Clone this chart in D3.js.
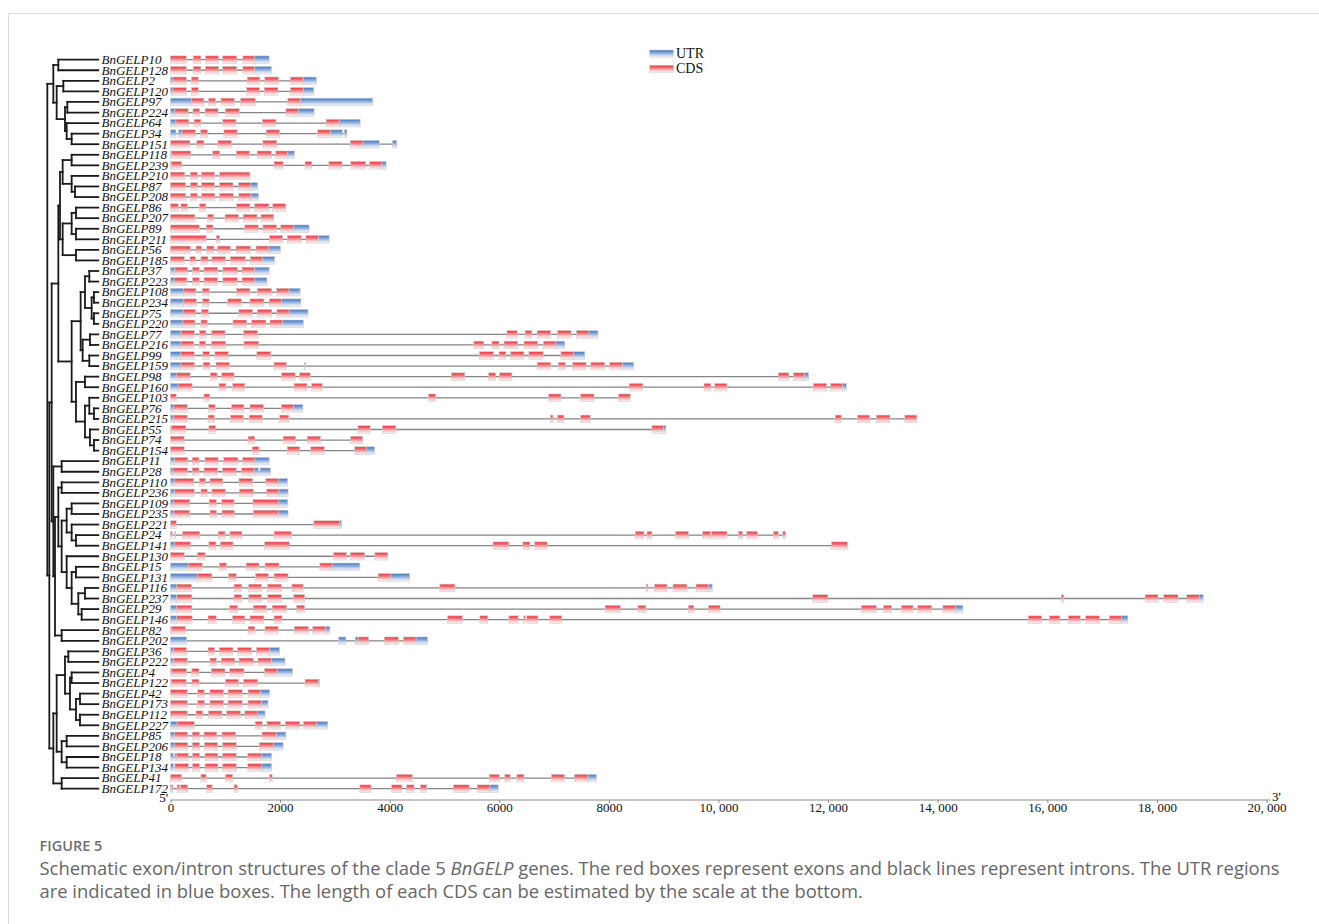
<!DOCTYPE html>
<html><head><meta charset="utf-8">
<script src="https://cdn.jsdelivr.net/npm/d3@7"></script>
<style>body{margin:0;background:#fff;} svg{display:block;}</style>
</head><body><svg id="chart" width="1319" height="924"></svg>
<script>
// ---------------- DATA ----------------
const genes = ["BnGELP10","BnGELP128","BnGELP2","BnGELP120","BnGELP97","BnGELP224","BnGELP64","BnGELP34","BnGELP151","BnGELP118","BnGELP239","BnGELP210","BnGELP87","BnGELP208","BnGELP86","BnGELP207","BnGELP89","BnGELP211","BnGELP56","BnGELP185","BnGELP37","BnGELP223","BnGELP108","BnGELP234","BnGELP75","BnGELP220","BnGELP77","BnGELP216","BnGELP99","BnGELP159","BnGELP98","BnGELP160","BnGELP103","BnGELP76","BnGELP215","BnGELP55","BnGELP74","BnGELP154","BnGELP11","BnGELP28","BnGELP110","BnGELP236","BnGELP109","BnGELP235","BnGELP221","BnGELP24","BnGELP141","BnGELP130","BnGELP15","BnGELP131","BnGELP116","BnGELP237","BnGELP29","BnGELP146","BnGELP82","BnGELP202","BnGELP36","BnGELP222","BnGELP4","BnGELP122","BnGELP42","BnGELP173","BnGELP112","BnGELP227","BnGELP85","BnGELP206","BnGELP18","BnGELP134","BnGELP41","BnGELP172"];

const geneLength = [1800,1840,2660,2615,3690,2620,3460,3220,4130,2260,3935,1450,1590,1605,2100,1880,2530,2895,2005,1900,1800,1760,2365,2380,2510,2425,7800,7195,7560,8450,11645,12335,8390,2415,13620,9040,3505,3725,1800,1825,2135,2145,2140,2145,3120,11225,12350,3965,3455,4365,9885,18845,14460,17470,2910,4690,1990,2090,2225,2720,1810,1780,1725,2870,2105,2055,1845,1845,7770,5980];

const utrSegments = [
 [[1530,1800]],
 [[1530,1840]],
 [[0,45],[2420,2660]],
 [[0,45],[2420,2615]],
 [[0,380],[2370,3690]],
 [[0,80],[2335,2620]],
 [[0,100],[3080,3460]],
 [[0,100],[145,210],[2920,3135],[3170,3220]],
 [[3510,3810],[4050,4130]],
 [[0,20],[2140,2260]],
 [[0,20],[3855,3935]],
 [],
 [[1465,1590]],
 [[1470,1605]],
 [],
 [],
 [[2240,2530]],
 [[2700,2895]],
 [[1795,2005]],
 [[1675,1900]],
 [[0,80],[1530,1800]],
 [[0,75],[1530,1760]],
 [[0,245],[2160,2365]],
 [[0,245],[2025,2380]],
 [[0,230],[2165,2510]],
 [[0,225],[2045,2425]],
 [[0,190],[7635,7800]],
 [[0,190],[7030,7195]],
 [[0,190],[7350,7560]],
 [[0,190],[8245,8450]],
 [[0,105],[11565,11645]],
 [[0,140],[12260,12335]],
 [],
 [[0,60],[2240,2415]],
 [[0,55]],
 [[0,20],[8995,9040]],
 [],
 [[3575,3725]],
 [[0,75],[1535,1800]],
 [[0,45],[1525,1605],[1635,1825]],
 [[0,75],[1965,2135]],
 [[0,75],[1975,2145]],
 [[0,60],[1975,2140]],
 [[0,60],[1975,2145]],
 [[3080,3120]],
 [],
 [[0,75]],
 [],
 [[0,325],[2955,3455]],
 [[0,490],[4020,4365]],
 [[0,115],[9815,9885]],
 [[0,115],[18780,18845]],
 [[0,115],[14325,14460]],
 [[0,115],[17350,17470]],
 [[0,20],[2825,2910]],
 [[0,295],[3065,3200],[3370,3425],[4480,4690]],
 [[0,55],[1805,1990]],
 [[0,55],[1840,2090]],
 [[0,20],[1945,2225]],
 [[0,20],[2695,2720]],
 [[1640,1810]],
 [[1660,1780]],
 [[1585,1725]],
 [[0,120],[2660,2870]],
 [[0,75],[1935,2105]],
 [[0,75],[1880,2055]],
 [[0,55],[80,105],[1665,1845]],
 [[0,55],[1665,1845]],
 [[7620,7770]],
 [[0,20],[5830,5980]]
];

const cdsSegments = [
 [[0,290],[415,555],[635,880],[950,1210],[1320,1530]],
 [[0,290],[415,555],[635,880],[950,1210],[1320,1530]],
 [[45,290],[380,510],[1400,1630],[1720,1975],[2185,2420]],
 [[45,290],[380,510],[1390,1620],[1710,1960],[2185,2420]],
 [[380,610],[695,825],[920,1165],[1280,1550],[2140,2370]],
 [[80,325],[410,530],[630,870],[1000,1255],[2105,2335]],
 [[100,335],[430,555],[955,1195],[1675,1925],[2840,3080]],
 [[210,455],[550,675],[975,1215],[1745,1990],[2685,2920]],
 [[0,355],[480,610],[865,1110],[1685,1940],[3280,3510]],
 [[20,370],[770,900],[1200,1440],[1580,1840],[1920,2140]],
 [[20,200],[1890,2055],[2455,2580],[2890,3130],[3290,3555],[3635,3855]],
 [[0,260],[360,490],[565,805],[895,1450]],
 [[0,275],[360,490],[565,805],[895,1140],[1240,1465]],
 [[0,275],[360,490],[565,810],[895,1145],[1245,1470]],
 [[0,145],[190,305],[525,645],[1205,1450],[1535,1795],[1865,2100]],
 [[0,445],[675,785],[995,1245],[1325,1580],[1650,1880]],
 [[0,525],[650,775],[1355,1605],[1685,1940],[2010,2240]],
 [[0,650],[835,895],[1805,2045],[2130,2385],[2470,2700]],
 [[0,365],[465,565],[660,795],[855,1095],[1195,1465],[1560,1795]],
 [[0,255],[355,455],[555,685],[755,1000],[1090,1365],[1455,1675]],
 [[80,310],[400,525],[610,860],[955,1220],[1305,1530]],
 [[75,300],[400,525],[610,860],[955,1220],[1305,1530]],
 [[245,465],[580,705],[1205,1450],[1585,1840],[1935,2160]],
 [[245,475],[580,705],[1045,1295],[1450,1705],[1800,2025]],
 [[230,455],[565,690],[1245,1500],[1585,1845],[1940,2165]],
 [[225,445],[555,670],[1140,1390],[1480,1740],[1815,2045]],
 [[190,435],[525,645],[750,995],[1335,1590],[6140,6325],[6470,6595],[6690,6940],[7060,7310],[7405,7635]],
 [[190,425],[525,640],[750,1000],[1340,1610],[5535,5715],[5865,5995],[6085,6335],[6450,6700],[6805,7030]],
 [[190,435],[590,715],[810,1055],[1575,1830],[5635,5895],[5995,6120],[6205,6450],[6540,6800],[7125,7350]],
 [[190,440],[595,720],[830,1075],[1890,2115],[2445,2465],[6690,6940],[7080,7205],[7335,7585],[7670,7925],[8015,8245]],
 [[105,360],[725,850],[935,1160],[2025,2275],[2355,2550],[5125,5370],[5805,5930],[6005,6230],[11090,11285],[11365,11565]],
 [[140,395],[885,1010],[1135,1355],[2255,2490],[2575,2770],[8370,8620],[9735,9860],[9930,10155],[11730,11975],[12045,12260]],
 [[0,105],[610,715],[4705,4840],[6900,7125],[7480,7730],[8175,8390]],
 [[60,305],[695,815],[1115,1340],[1450,1695],[2025,2240]],
 [[55,305],[685,800],[1095,1325],[1435,1675],[1990,2160],[6930,6980],[7060,7180],[7485,7660],[12130,12240],[12535,12760],[12880,13130],[13400,13620]],
 [[20,280],[700,825],[3420,3645],[3865,4110],[8785,8995]],
 [[0,250],[1415,1540],[2055,2285],[2495,2740],[3285,3505]],
 [[0,250],[1490,1615],[2130,2360],[2560,2810],[3360,3575]],
 [[75,315],[395,520],[630,870],[970,1230],[1315,1535]],
 [[45,310],[395,520],[610,860],[945,1200],[1300,1525]],
 [[75,425],[525,640],[720,955],[1250,1500],[1740,1965]],
 [[75,435],[555,670],[755,1000],[1255,1510],[1750,1975]],
 [[60,350],[705,835],[935,1160],[1505,1975]],
 [[60,350],[720,840],[940,1165],[1510,1975]],
 [[0,105],[2615,3080]],
 [[0,30],[75,90],[220,535],[870,995],[1085,1305],[1890,2205],[8480,8640],[8695,8785],[9215,9450],[9710,9855],[9870,10155],[10360,10440],[10515,10710],[11000,11090],[11170,11225]],
 [[75,365],[700,830],[910,1140],[1715,2170],[5885,6175],[6430,6560],[6645,6875],[12060,12350]],
 [[0,250],[495,630],[2975,3215],[3280,3540],[3730,3965]],
 [[325,580],[890,1025],[1380,1615],[1725,1980],[2725,2955]],
 [[490,755],[1060,1200],[1550,1785],[1890,2145],[3790,4020]],
 [[115,385],[1160,1300],[1425,1660],[1770,2025],[2215,2420],[4915,5190],[8680,8710],[8830,9060],[9170,9425],[9590,9815]],
 [[115,390],[1160,1300],[1425,1660],[1770,2025],[2245,2450],[11720,11995],[16255,16300],[17785,18020],[18125,18385],[18545,18780]],
 [[115,390],[1080,1220],[1510,1750],[1855,2115],[2300,2450],[7930,8210],[8530,8675],[9450,9550],[9815,10030],[12610,12880],[13010,13155],[13340,13550],[13635,13890],[14095,14325]],
 [[115,395],[685,835],[1130,1355],[1450,1705],[1890,2035],[5055,5330],[5645,5790],[6175,6345],[6445,6470],[6500,6705],[6920,7140],[15650,15900],[16040,16230],[16380,16600],[16700,16950],[17130,17350]],
 [[20,270],[1415,1540],[1725,1965],[2260,2520],[2595,2825]],
 [[3425,3615],[3900,4160],[4250,4480]],
 [[55,295],[685,805],[890,1140],[1220,1475],[1565,1805]],
 [[55,305],[720,840],[925,1175],[1250,1510],[1595,1840]],
 [[20,295],[390,520],[745,995],[1080,1340],[1715,1945]],
 [[20,285],[390,520],[1000,1245],[1330,1585],[2455,2695]],
 [[0,305],[495,620],[720,970],[1050,1310],[1415,1640]],
 [[0,305],[495,620],[720,970],[1050,1310],[1415,1660]],
 [[0,305],[465,590],[690,940],[1020,1280],[1355,1585]],
 [[120,435],[1545,1675],[1760,2005],[2095,2360],[2425,2660]],
 [[75,310],[395,530],[610,845],[940,1190],[1670,1935]],
 [[75,315],[400,530],[620,860],[950,1200],[1620,1880]],
 [[105,325],[400,530],[630,865],[950,1200],[1410,1665]],
 [[80,325],[400,530],[630,865],[950,1200],[1410,1665]],
 [[0,200],[555,650],[1005,1135],[1805,1855],[4120,4415],[5820,6000],[6100,6200],[6320,6450],[6950,7190],[7370,7620]],
 [[20,45],[120,170],[185,310],[660,760],[1160,1220],[3455,3660],[4035,4225],[4305,4445],[4560,4675],[5160,5450],[5600,5830]]
];

// tree: [nodeDepth, child, child] ; leaves = gene number suffix
const treeData =
 [22,
  [40, [55,"10","128"], [50, [70,"2","120"], [75, [82,"97","224"], [80,"64",[95,"34","151"]]]]],
  [28,
   [35,
    [55,
     [60,
      [68, [95,"118","239"], [95,"210",[105,"87","208"]]],
      [68, [95,[108,"86","207"],[108,"89","211"]], [108,"56","185"]]
     ],
     [95,
      [122,
       [135,[148,"37","223"],[155,[162,"108","234"],[162,"75","220"]]],
       [128,[150,"77","216"],[148,"99","159"]]
      ],
      [108,[135,"98","160"],[135,[148,"103",[162,"76","215"]],[150,"55",[162,"74","154"]]]]
     ]
    ],
    [40,
     [65,"11","28"],
     [45,
      [55,
       [65,"110","236"],
       [65,
        [80,[95,"109","235"],[95,"221",[108,"24","141"]]],
        [80,"130",[95,[108,"15","131"],[115,[135,"116","237"],[125,"29","146"]]]]
       ]
      ],
      [65,"82","202"]
     ]
    ]
   ],
   [40,
    [50,
     [75,[85,"36","222"],[90,[95,"4","122"],[108,[120,"42","173"],[120,"112","227"]]]],
     [65,[80,"85","206"],[80,"18","134"]]
    ],
    [65,"41","172"]
   ]
  ]
 ];

const axisTicks = [0,2000,4000,6000,8000,10000,12000,14000,16000,18000,20000];
const legendItems = ["UTR","CDS"];

// ---------------- DRAW ----------------
const svg = d3.select("#chart");
const serif = "'Liberation Serif','Times New Roman',serif";

// frame
svg.append("line").attr("x1",8).attr("x2",1319).attr("y1",13.5).attr("y2",13.5).attr("stroke","#dcdcdc");
svg.append("line").attr("x1",8.5).attr("x2",8.5).attr("y1",13).attr("y2",924).attr("stroke","#dcdcdc");

const defs = svg.append("defs");
function grad(id, stops){
  const g = defs.append("linearGradient").attr("id",id).attr("x1",0).attr("y1",0).attr("x2",0).attr("y2",1);
  stops.forEach(s=>g.append("stop").attr("offset",s[0]).attr("stop-color",s[1]));
}
grad("gCDS", [["0%","#e8333d"],["35%","#f17479"],["70%","#f9c8ca"],["100%","#fff6f6"]]);
grad("gUTR", [["0%","#4776be"],["35%","#7fa2d8"],["70%","#c9d8ef"],["100%","#f4f7fc"]]);

const x = d3.scaleLinear().domain([0,20000]).range([170.5,1266.5]);
const y = d3.scaleLinear().domain([0, genes.length-1]).range([59.7, 59.7 + 10.565*(genes.length-1)]);
const boxH = 7.6;

// genes
const rows = svg.append("g").selectAll("g").data(genes).join("g")
  .attr("transform",(d,i)=>`translate(0,${y(i)})`);
rows.append("line")
  .attr("x1",x(0)).attr("x2",(d,i)=>x(geneLength[i]))
  .attr("stroke","#858585").attr("stroke-width",1.3);
rows.each(function(d,i){
  const g = d3.select(this);
  g.selectAll("rect.u").data(utrSegments[i]).join("rect").attr("class","u")
    .attr("x",s=>x(s[0])).attr("width",s=>Math.max(0.8,x(s[1])-x(s[0])))
    .attr("y",-boxH/2).attr("height",boxH)
    .attr("fill","url(#gUTR)").attr("stroke","#cfcfcf").attr("stroke-width",0.6);
  g.selectAll("rect.c").data(cdsSegments[i]).join("rect").attr("class","c")
    .attr("x",s=>x(s[0])).attr("width",s=>Math.max(0.8,x(s[1])-x(s[0])))
    .attr("y",-boxH/2).attr("height",boxH)
    .attr("fill","url(#gCDS)").attr("stroke","#cfcfcf").attr("stroke-width",0.6);
});

// labels
rows.append("text").attr("x",101.5).attr("y",4.3)
  .attr("font-family",serif).attr("font-style","italic").attr("font-size",13)
  .attr("fill","#111").text(d=>d);

// tree
function toObj(n){
  if (typeof n === "string") return {name:"BnGELP"+n};
  return {d:n[0], children:n.slice(1).map(toObj)};
}
const root = d3.hierarchy(toObj(treeData));
const tx = d3.scaleLinear().domain([0,175]).range([40,98.3]);
const idx = new Map(genes.map((g,i)=>[g,i]));
root.eachAfter(n=>{
  if (!n.children){ n.py = y(idx.get(n.data.name)); n.px = tx(175); }
  else { n.py = (n.children[0].py + n.children[n.children.length-1].py)/2; n.px = tx(n.data.d); }
});
const tg = svg.append("g").attr("stroke","#1a1a1a").attr("stroke-width",1.8).attr("fill","none").attr("stroke-linecap","square");
root.each(n=>{
  if (!n.children) return;
  const c0 = n.children[0], c1 = n.children[n.children.length-1];
  tg.append("line").attr("x1",n.px).attr("x2",n.px).attr("y1",c0.py).attr("y2",c1.py);
  n.children.forEach(c=>{
    tg.append("line").attr("x1",n.px).attr("x2",c.px).attr("y1",c.py).attr("y2",c.py);
  });
});

// axis
const axisY = 800;
const ax = d3.axisBottom(x).tickValues(axisTicks).tickSize(3).tickPadding(0)
  .tickFormat(v => v < 10000 ? String(v) : d3.format(",")(v).replace(",", ", "));
const axg = svg.append("g").attr("transform",`translate(0,${axisY})`).call(ax);
axg.select(".domain").attr("stroke","#8a8a8a").attr("d",`M${x(0)},0H${x(20000)+4}`);
axg.selectAll(".tick line").attr("stroke","#8a8a8a");
axg.selectAll(".tick text").attr("font-family",serif).attr("font-size",13).attr("fill","#111");
svg.append("text").attr("x",168).attr("y",802).attr("text-anchor","end")
  .attr("font-family",serif).attr("font-size",13).text("5'");
svg.append("text").attr("x",1272).attr("y",801)
  .attr("font-family",serif).attr("font-size",13).text("3'");

// legend
const lg = svg.append("g").selectAll("g").data(legendItems).join("g")
  .attr("transform",(d,i)=>`translate(649.5,${50 + i*15.2})`);
lg.append("rect").attr("width",24).attr("height",7.6)
  .attr("fill",d=>d==="UTR"?"url(#gUTR)":"url(#gCDS)").attr("stroke","#d3d3d3").attr("stroke-width",0.5);
lg.append("text").attr("x",26.5).attr("y",7.6).attr("font-family",serif).attr("font-size",14).attr("fill","#111").text(d=>d);

// caption
const sans = "'Open Sans','Noto Sans',sans-serif";
svg.append("text").attr("x",39.5).attr("y",850.5).attr("font-family",sans).attr("font-weight",600)
  .attr("font-size",14.5).attr("fill","#6f6f6f").text("FIGURE 5");
const c1 = svg.append("text").attr("x",39.5).attr("y",874.5).attr("font-family",sans).attr("font-size",18.4).attr("fill","#666");
c1.append("tspan").text("Schematic exon/intron structures of the clade 5 ");
c1.append("tspan").attr("font-style","italic").text("BnGELP");
c1.append("tspan").text(" genes. The red boxes represent exons and black lines represent introns. The UTR regions");
svg.append("text").attr("x",39.5).attr("y",898).attr("font-family",sans).attr("font-size",18.4).attr("fill","#666")
  .text("are indicated in blue boxes. The length of each CDS can be estimated by the scale at the bottom.");
</script></body></html>
